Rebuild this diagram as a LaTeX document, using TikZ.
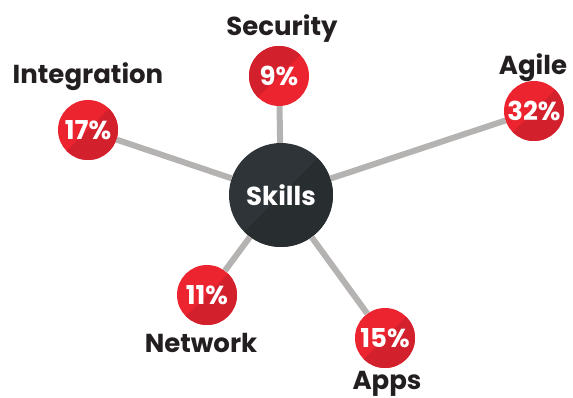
\documentclass[tikz,border=0pt]{standalone}
\usepackage{fontspec}
\setmainfont{Poppins}
\usepackage{tikz}
\usetikzlibrary{positioning,calc}
\definecolor{pctred}{HTML}{EC2430}
\definecolor{pctdark}{HTML}{D3202D}
\definecolor{hubgray}{HTML}{2E3437}
\definecolor{hubdark}{HTML}{282D30}
\definecolor{spokegray}{HTML}{B5B2B2}
\definecolor{labelblack}{HTML}{231F20}

\begin{document}
\begin{tikzpicture}[x=1pt,y=-1pt,
			hub/.style={circle, fill=hubgray, minimum size=104pt, inner sep=0pt, text=white, font=\fontsize{26}{29}\selectfont\bfseries,
				path picture={\fill[hubdark] (path picture bounding box.north east) -- (path picture bounding box.south west) -- (path picture bounding box.south east) -- cycle;}},
			pct/.style={circle, fill=pctred, minimum size=60pt, inner sep=0pt, text=white, font=\fontsize{26}{29}\selectfont\bfseries,
				path picture={\fill[pctdark] (path picture bounding box.north east) -- (path picture bounding box.south west) -- (path picture bounding box.south east) -- cycle;}},
			pcttop/.style={pct,
				path picture={\fill[pctdark] (path picture bounding box.north east) -- (path picture bounding box.south west) -- (path picture bounding box.north west) -- cycle;}},
			spoke/.style={line width=6pt, draw=spokegray},
			lbl/.style={text=labelblack, font=\fontsize{26}{29}\selectfont\bfseries}
			]
			\useasboundingbox (0,0) rectangle (573,398);
			
			\node[hub] (skills) at (281,195) {Skills};
			
			\node[pcttop] (security) at (279,76) {9\%};
			\node[pct] (integration) at (88,130) {17\%};
			\node[pct] (agile) at (534,111) {32\%};
			\node[pct] (network) at (207,295) {11\%};
			\node[pct] (apps) at (385,338) {15\%};
			
			\node[lbl] (securitylbl) at (282,29) {Security};
			\node[lbl] (integrationlbl) at (88,77) {Integration};
			\node[lbl] (agilelbl) at (533,68) {Agile};
			\node[lbl] (networklbl) at (201,343) {Network};
			\node[lbl] (appslbl) at (387,384) {Apps};
			
			\draw[spoke] (skills) -- (security);
			\draw[spoke] (skills) -- (integration);
			\draw[spoke] (skills) -- (agile);
			\draw[spoke] (skills) -- (network);
			\draw[spoke] (skills) -- (apps);
		\end{tikzpicture}
\end{document}
